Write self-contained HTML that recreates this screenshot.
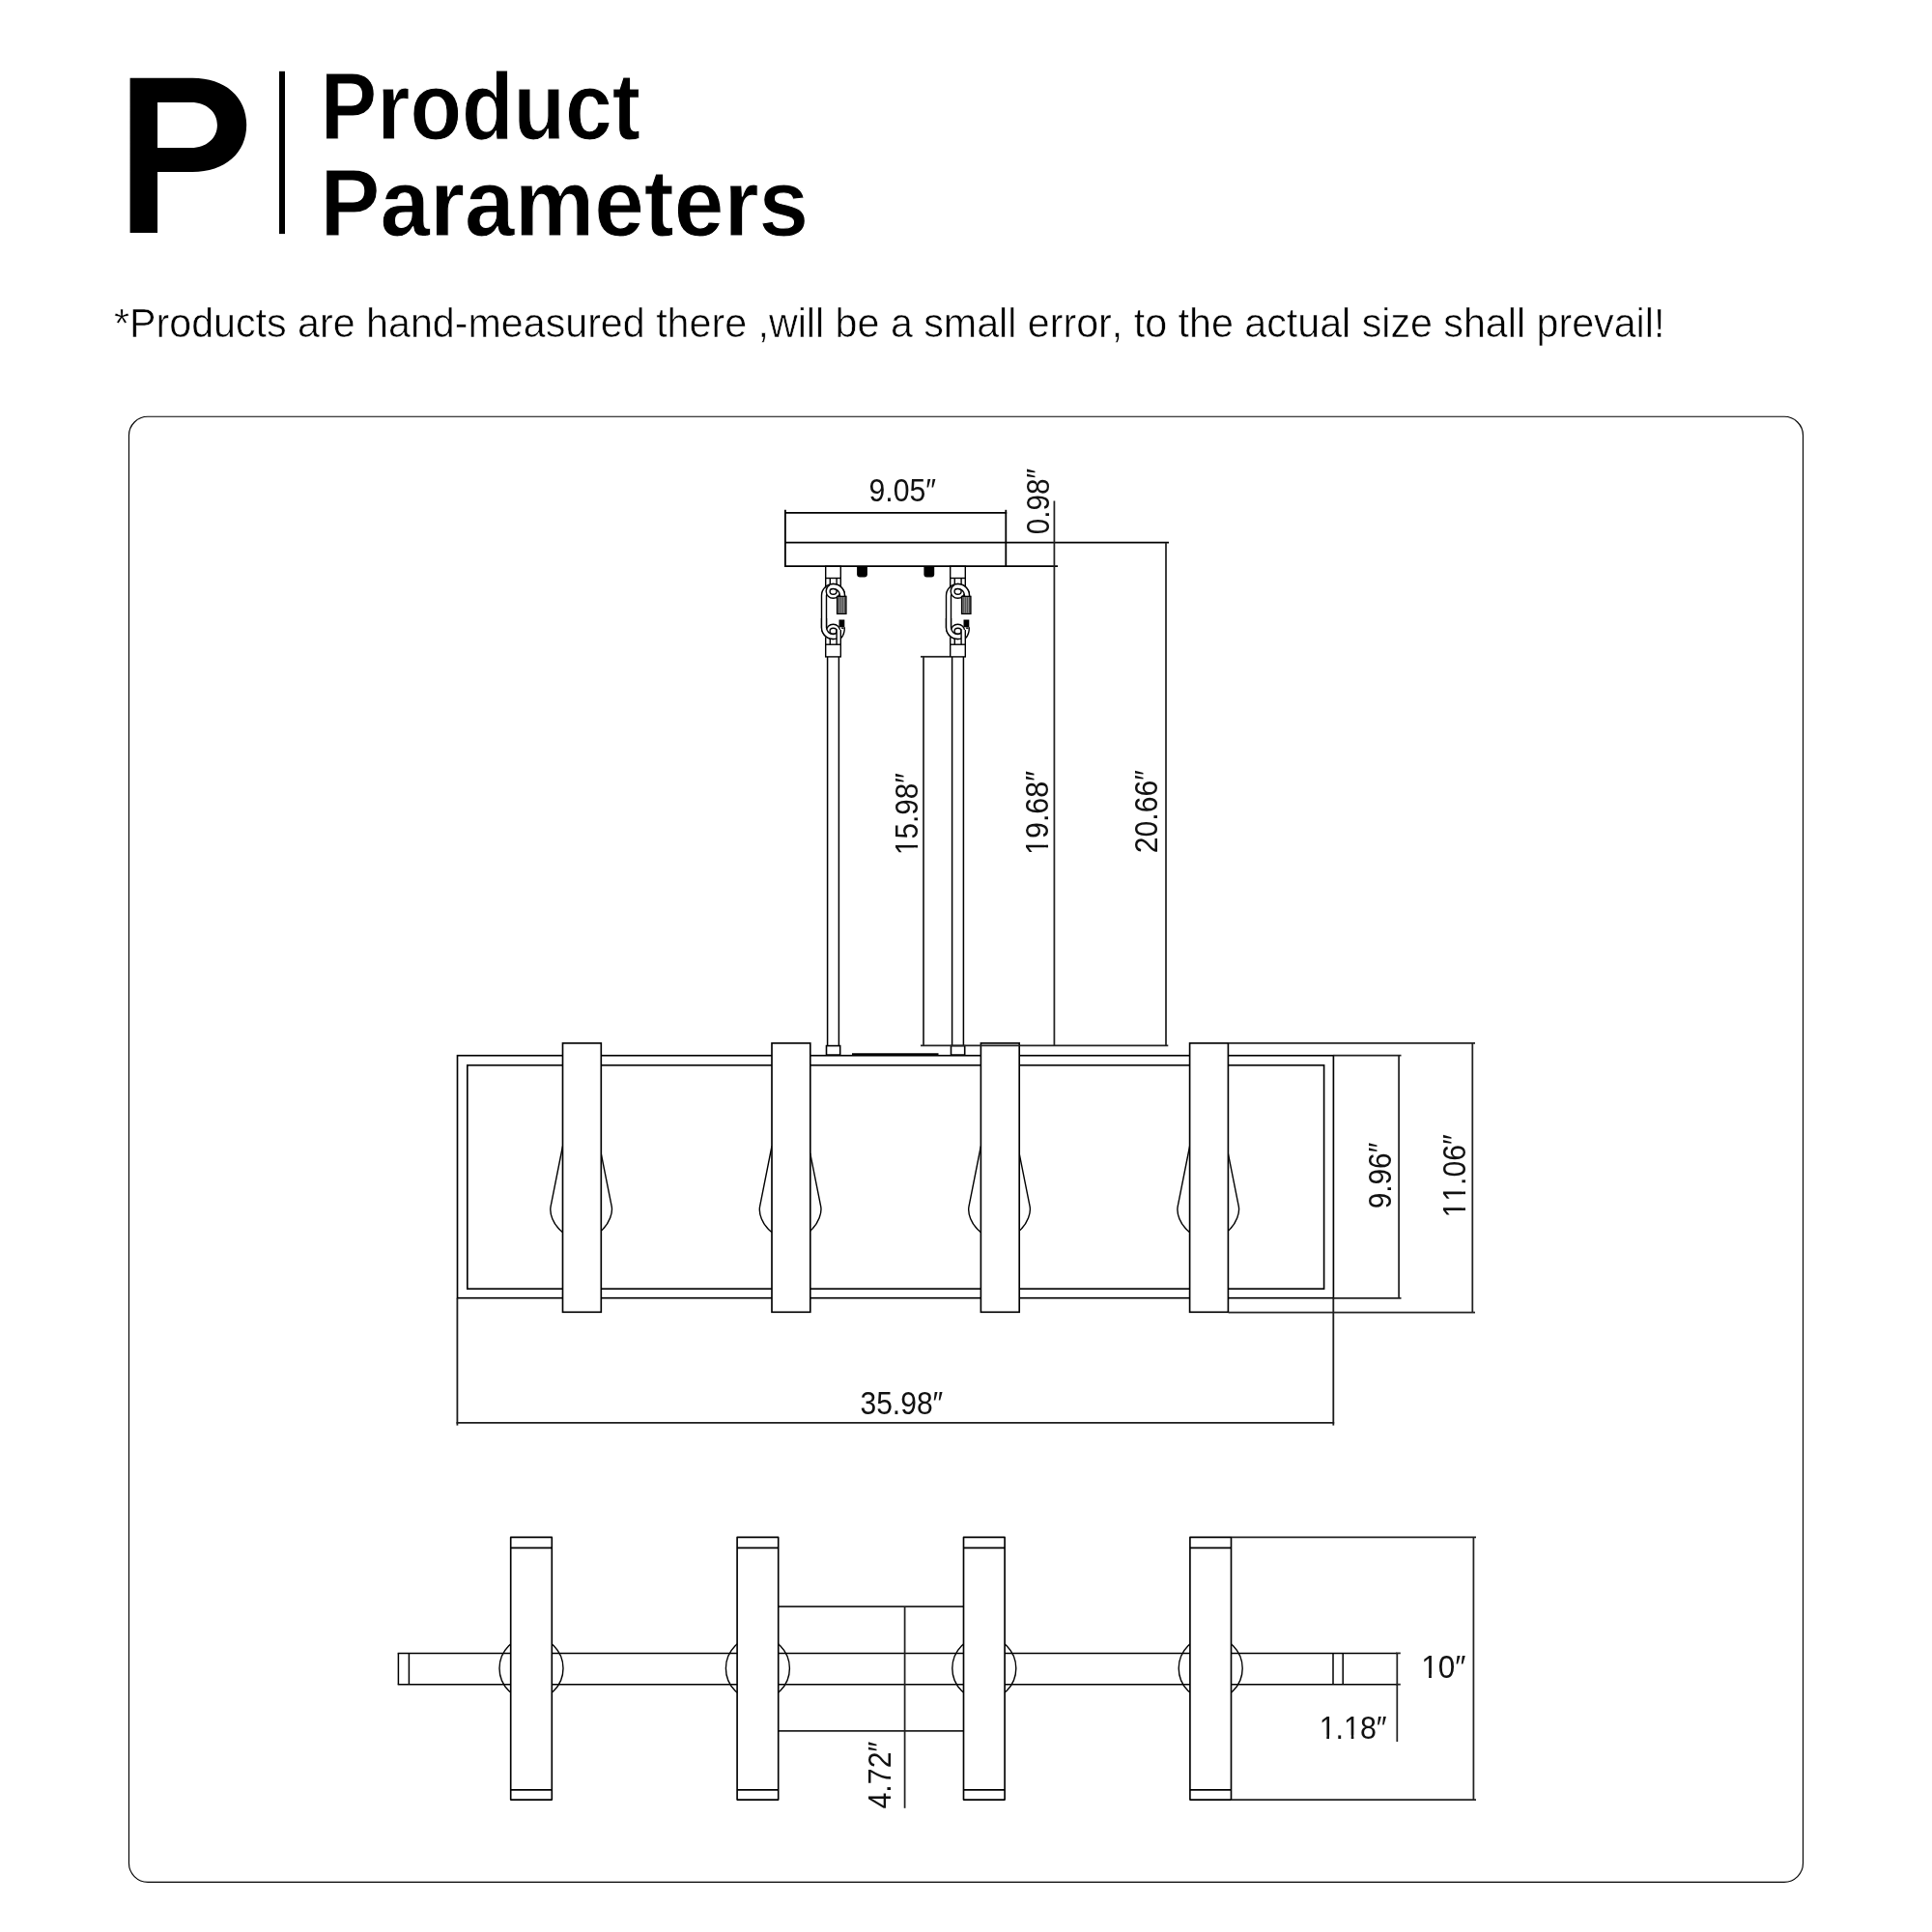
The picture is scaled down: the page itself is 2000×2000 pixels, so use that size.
<!DOCTYPE html>
<html><head><meta charset="utf-8">
<style>
html,body{margin:0;padding:0;background:#fff;}
body{width:2000px;height:2000px;position:relative;overflow:hidden;font-family:"Liberation Sans",sans-serif;color:#000;}
svg{position:absolute;left:0;top:0;}
svg text{font-family:"Liberation Sans",sans-serif;font-kerning:none;}
svg{will-change:transform;}
</style></head><body>
<svg width="2000" height="2000" viewBox="0 0 2000 2000">
<path fill="#000" fill-rule="evenodd" d="M134.6,80.7 H199.3 C232.84,80.7 255.2,100.16 255.2,129.35 C255.2,158.54 232.84,178 199.3,178 H163.05 V240.9 H134.6 Z M163.05,105.9 H198 C213.60,105.9 224.9,115.77 224.9,129.4 C224.9,143.03 213.60,152.9 198,152.9 H163.05 Z"/>
<rect x="289" y="73.8" width="6" height="168.3" fill="#000"/>
<g transform="translate(331.83,143.7) scale(0.8951,1)"><text font-size="97.95" font-weight="bold" fill="#000" stroke="#fff" stroke-width="1.0">Product</text></g>
<g transform="translate(331.49,243.5) scale(0.9476,1)"><text font-size="97.95" font-weight="bold" fill="#000" stroke="#fff" stroke-width="1.0">Parameters</text></g>
<g transform="translate(118.04,349.1) scale(0.9728,1)"><text font-size="42.37" font-weight="normal" fill="#000" stroke="#fff" stroke-width="0.6">*Products are hand-measured there ,will be a small error, to the actual size shall prevail!</text></g>
<rect x="133.46" y="431.26" width="1733.04" height="1517.1" rx="19.5" ry="19.5" fill="none" stroke="#000" stroke-width="1.15"/>
<line x1="812.9" y1="527.8" x2="812.9" y2="586.2" stroke="#000" stroke-width="1.8" />
<line x1="1041.3" y1="527.8" x2="1041.3" y2="586.2" stroke="#000" stroke-width="1.8" />
<line x1="812" y1="530.9" x2="1042.2" y2="530.9" stroke="#000" stroke-width="1.8" />
<line x1="812" y1="561.7" x2="1210" y2="561.7" stroke="#000" stroke-width="1.8" />
<line x1="812" y1="586.2" x2="1095" y2="586.2" stroke="#000" stroke-width="1.8" />
<line x1="1091.4" y1="518.4" x2="1091.4" y2="1082.4" stroke="#222" stroke-width="1.75" />
<line x1="1207" y1="561.7" x2="1207" y2="1082.4" stroke="#222" stroke-width="1.75" />
<g transform="translate(899.48,519) scale(0.9152,1)"><text font-size="33" font-weight="normal" fill="#111">9.05″</text></g>
<g transform="translate(1086.2,553.16) rotate(-90) scale(0.8985,1)"><text font-size="33" font-weight="normal" fill="#111">0.98″</text></g>
<path d="M887.1,586 h10.8 v8.5 q0,3 -3,3 h-4.8 q-3,0 -3,-3 z" fill="#000" stroke="#000" stroke-width="0" />
<path d="M956.4,586 h10.8 v8.5 q0,3 -3,3 h-4.8 q-3,0 -3,-3 z" fill="#000" stroke="#000" stroke-width="0" />
<rect x="854.7" y="586.3" width="15.6" height="12.2" fill="#fff" stroke="#000" stroke-width="1.4"/>
<path d="M874.5,617.3 V616.5 A12,12 0 0 0 850.5,616.5 V649.5 A12,12 0 0 0 866.1,660.95 L866.1,655.5 A7,7 0 0 1 855.5,649.5 V616.5 A7,7 0 0 1 869.5,616.5 V617.3 Z" fill="#fff" stroke="#000" stroke-width="1.4" />
<circle cx="862.5" cy="612" r="7.3" fill="#fff" stroke="#000" stroke-width="1.4"/>
<ellipse cx="862.6" cy="612.2" rx="3.5" ry="3.0" fill="#fff" stroke="#000" stroke-width="1.4"/>
<clipPath id="c862a"><rect x="859.3" y="600" width="20" height="18"/></clipPath>
<path d="M874.5,617.8 V616.5 A12,12 0 0 0 850.5,616.5 L855.5,616.5 A7,7 0 0 1 869.5,616.5 V617.8 Z" fill="#fff" stroke="#000" stroke-width="1.4" clip-path="url(#c862a)"/>
<line x1="854.7" y1="598.5" x2="854.7" y2="608.5" stroke="#000" stroke-width="1.4"/>
<line x1="859.3" y1="598.5" x2="859.3" y2="605.2" stroke="#000" stroke-width="1.4"/>
<line x1="866.1" y1="598.5" x2="866.1" y2="605.2" stroke="#000" stroke-width="1.4"/>
<line x1="870.3" y1="598.5" x2="870.3" y2="607.3" stroke="#000" stroke-width="1.4"/>
<circle cx="862.5" cy="653.4" r="7.15" fill="#fff" stroke="#000" stroke-width="1.4"/>
<ellipse cx="862.6" cy="653.3" rx="3.5" ry="3.0" fill="#fff" stroke="#000" stroke-width="1.4"/>
<clipPath id="c862b"><rect x="848.5" y="640" width="17.6" height="25"/></clipPath>
<path d="M850.5,640 V649.5 A12,12 0 0 0 874.5,649.5 L869.5,649.5 A7,7 0 0 1 855.5,649.5 V640 Z" fill="#fff" stroke="none" clip-path="url(#c862b)"/>
<path d="M850.5,638 V649.5 A12,12 0 0 0 874.5,649.5 M869.5,649.5 A7,7 0 0 1 855.5,649.5 V638" fill="none" stroke="#000" stroke-width="1.4" clip-path="url(#c862b)"/>
<rect x="866.1" y="652" width="4.2" height="15.2" fill="#fff" stroke="none"/>
<line x1="866.1" y1="651.5" x2="866.1" y2="667.2" stroke="#000" stroke-width="1.4"/>
<line x1="870.3" y1="652" x2="870.3" y2="667.2" stroke="#000" stroke-width="1.4"/>
<line x1="854.7" y1="659.6" x2="854.7" y2="667.2" stroke="#000" stroke-width="1.4"/>
<line x1="859.3" y1="661.2" x2="859.3" y2="667.2" stroke="#000" stroke-width="1.4"/>
<path d="M874.3,649.2 C874.4,654 873.0,658 870.7,660.5" fill="none" stroke="#000" stroke-width="1.4" />
<path d="M871.1,650.2 L873.5,650.2" fill="none" stroke="#000" stroke-width="1.4" />
<rect x="866.6" y="617.4" width="9.3" height="18" fill="#9a9a9a" stroke="#000" stroke-width="1.4"/>
<line x1="868.2" y1="618.2" x2="868.2" y2="634.6" stroke="#333" stroke-width="0.9"/>
<line x1="870.25" y1="618.2" x2="870.25" y2="634.6" stroke="#333" stroke-width="0.9"/>
<line x1="872.3" y1="618.2" x2="872.3" y2="634.6" stroke="#333" stroke-width="0.9"/>
<line x1="874.35" y1="618.2" x2="874.35" y2="634.6" stroke="#333" stroke-width="0.9"/>
<rect x="868.5" y="641.5" width="5.8" height="7.8" fill="#000"/>
<rect x="854.7" y="667.2" width="15.6" height="12.7" fill="#fff" stroke="#000" stroke-width="1.4"/>
<line x1="856.6" y1="680" x2="856.6" y2="1082.6" stroke="#000" stroke-width="1.5"/>
<line x1="868.4" y1="680" x2="868.4" y2="1082.6" stroke="#000" stroke-width="1.5"/>
<rect x="855.5" y="1082.6" width="14.2" height="9.5" fill="#fff" stroke="#000" stroke-width="1.6"/>
<rect x="983.7" y="586.3" width="15.6" height="12.2" fill="#fff" stroke="#000" stroke-width="1.4"/>
<path d="M1003.5,617.3 V616.5 A12,12 0 0 0 979.5,616.5 V649.5 A12,12 0 0 0 995.1,660.95 L995.1,655.5 A7,7 0 0 1 984.5,649.5 V616.5 A7,7 0 0 1 998.5,616.5 V617.3 Z" fill="#fff" stroke="#000" stroke-width="1.4" />
<circle cx="991.5" cy="612" r="7.3" fill="#fff" stroke="#000" stroke-width="1.4"/>
<ellipse cx="991.6" cy="612.2" rx="3.5" ry="3.0" fill="#fff" stroke="#000" stroke-width="1.4"/>
<clipPath id="c991a"><rect x="988.3" y="600" width="20" height="18"/></clipPath>
<path d="M1003.5,617.8 V616.5 A12,12 0 0 0 979.5,616.5 L984.5,616.5 A7,7 0 0 1 998.5,616.5 V617.8 Z" fill="#fff" stroke="#000" stroke-width="1.4" clip-path="url(#c991a)"/>
<line x1="983.7" y1="598.5" x2="983.7" y2="608.5" stroke="#000" stroke-width="1.4"/>
<line x1="988.3" y1="598.5" x2="988.3" y2="605.2" stroke="#000" stroke-width="1.4"/>
<line x1="995.1" y1="598.5" x2="995.1" y2="605.2" stroke="#000" stroke-width="1.4"/>
<line x1="999.3" y1="598.5" x2="999.3" y2="607.3" stroke="#000" stroke-width="1.4"/>
<circle cx="991.5" cy="653.4" r="7.15" fill="#fff" stroke="#000" stroke-width="1.4"/>
<ellipse cx="991.6" cy="653.3" rx="3.5" ry="3.0" fill="#fff" stroke="#000" stroke-width="1.4"/>
<clipPath id="c991b"><rect x="977.5" y="640" width="17.6" height="25"/></clipPath>
<path d="M979.5,640 V649.5 A12,12 0 0 0 1003.5,649.5 L998.5,649.5 A7,7 0 0 1 984.5,649.5 V640 Z" fill="#fff" stroke="none" clip-path="url(#c991b)"/>
<path d="M979.5,638 V649.5 A12,12 0 0 0 1003.5,649.5 M998.5,649.5 A7,7 0 0 1 984.5,649.5 V638" fill="none" stroke="#000" stroke-width="1.4" clip-path="url(#c991b)"/>
<rect x="995.1" y="652" width="4.2" height="15.2" fill="#fff" stroke="none"/>
<line x1="995.1" y1="651.5" x2="995.1" y2="667.2" stroke="#000" stroke-width="1.4"/>
<line x1="999.3" y1="652" x2="999.3" y2="667.2" stroke="#000" stroke-width="1.4"/>
<line x1="983.7" y1="659.6" x2="983.7" y2="667.2" stroke="#000" stroke-width="1.4"/>
<line x1="988.3" y1="661.2" x2="988.3" y2="667.2" stroke="#000" stroke-width="1.4"/>
<path d="M1003.3,649.2 C1003.4,654 1002.0,658 999.7,660.5" fill="none" stroke="#000" stroke-width="1.4" />
<path d="M1000.1,650.2 L1002.5,650.2" fill="none" stroke="#000" stroke-width="1.4" />
<rect x="995.6" y="617.4" width="9.3" height="18" fill="#9a9a9a" stroke="#000" stroke-width="1.4"/>
<line x1="997.2" y1="618.2" x2="997.2" y2="634.6" stroke="#333" stroke-width="0.9"/>
<line x1="999.25" y1="618.2" x2="999.25" y2="634.6" stroke="#333" stroke-width="0.9"/>
<line x1="1001.3" y1="618.2" x2="1001.3" y2="634.6" stroke="#333" stroke-width="0.9"/>
<line x1="1003.35" y1="618.2" x2="1003.35" y2="634.6" stroke="#333" stroke-width="0.9"/>
<rect x="997.5" y="641.5" width="5.8" height="7.8" fill="#000"/>
<rect x="983.7" y="667.2" width="15.6" height="12.7" fill="#fff" stroke="#000" stroke-width="1.4"/>
<line x1="985.6" y1="680" x2="985.6" y2="1082.6" stroke="#000" stroke-width="1.5"/>
<line x1="997.4" y1="680" x2="997.4" y2="1082.6" stroke="#000" stroke-width="1.5"/>
<rect x="984.5" y="1082.6" width="14.2" height="9.5" fill="#fff" stroke="#000" stroke-width="1.6"/>
<line x1="953" y1="679.8" x2="983" y2="679.8" stroke="#222" stroke-width="1.75" />
<line x1="956" y1="679.8" x2="956" y2="1082.4" stroke="#222" stroke-width="1.75" />
<g transform="translate(949.8,884.95) rotate(-90) scale(0.8986,1)"><text font-size="33" font-weight="normal" fill="#111">15.98″</text><rect x="1.45" y="-3.38" width="6.85" height="4.51" fill="#fff"/><rect x="11.21" y="-3.38" width="6.51" height="4.51" fill="#fff"/></g>
<g transform="translate(1084.8,885.03) rotate(-90) scale(0.9240,1)"><text font-size="33" font-weight="normal" fill="#111">19.68″</text><rect x="1.45" y="-3.38" width="6.85" height="4.51" fill="#fff"/><rect x="11.21" y="-3.38" width="6.51" height="4.51" fill="#fff"/></g>
<g transform="translate(1198,883.22) rotate(-90) scale(0.9142,1)"><text font-size="33" font-weight="normal" fill="#111">20.66″</text></g>
<line x1="882" y1="1091.6" x2="971.5" y2="1091.6" stroke="#000" stroke-width="2.6" />
<rect x="473.5" y="1092.7" width="906.9" height="251.0" fill="none" stroke="#000" stroke-width="1.65" />
<rect x="483.8" y="1102.7" width="886.8" height="231.5" fill="none" stroke="#000" stroke-width="1.65" />
<path d="M582.5,1186.5 L570.1,1248.9 C568.8,1255.5 571.9,1267.5 582.5,1275.6" fill="none" stroke="#000" stroke-width="1.4" />
<path d="M622.2,1193.9 L633.2,1248.9 C634.4,1255 631.5,1266 622.2,1274.3" fill="none" stroke="#000" stroke-width="1.4" />
<rect x="582.5" y="1079.9" width="39.8" height="278.4" fill="#fff" stroke="#000" stroke-width="1.65" />
<path d="M799.0,1186.5 L786.6,1248.9 C785.3,1255.5 788.4,1267.5 799.0,1275.6" fill="none" stroke="#000" stroke-width="1.4" />
<path d="M838.7,1193.9 L849.7,1248.9 C850.9,1255 848.0,1266 838.7,1274.3" fill="none" stroke="#000" stroke-width="1.4" />
<rect x="799.0" y="1079.9" width="39.8" height="278.4" fill="#fff" stroke="#000" stroke-width="1.65" />
<path d="M1015.4,1186.5 L1003.0,1248.9 C1001.7,1255.5 1004.8,1267.5 1015.4,1275.6" fill="none" stroke="#000" stroke-width="1.4" />
<path d="M1055.1,1193.9 L1066.1,1248.9 C1067.3,1255 1064.4,1266 1055.1,1274.3" fill="none" stroke="#000" stroke-width="1.4" />
<rect x="1015.4" y="1079.9" width="39.8" height="278.4" fill="#fff" stroke="#000" stroke-width="1.65" />
<path d="M1231.6,1186.5 L1219.2,1248.9 C1217.9,1255.5 1221.0,1267.5 1231.6,1275.6" fill="none" stroke="#000" stroke-width="1.4" />
<path d="M1271.3,1193.9 L1282.3,1248.9 C1283.5,1255 1280.6,1266 1271.3,1274.3" fill="none" stroke="#000" stroke-width="1.4" />
<rect x="1231.6" y="1079.9" width="39.8" height="278.4" fill="#fff" stroke="#000" stroke-width="1.65" />
<line x1="953" y1="1082.4" x2="1209.3" y2="1082.4" stroke="#222" stroke-width="1.75" />
<line x1="473.4" y1="1343.8" x2="473.4" y2="1475.6" stroke="#1c1c1c" stroke-width="1.8" />
<line x1="1380.3" y1="1343.8" x2="1380.3" y2="1475.6" stroke="#1c1c1c" stroke-width="1.8" />
<line x1="472.5" y1="1472.9" x2="1381.2" y2="1472.9" stroke="#1c1c1c" stroke-width="1.8" />
<g transform="translate(890.46,1464) scale(0.9102,1)"><text font-size="33" font-weight="normal" fill="#111">35.98″</text></g>
<line x1="1380.4" y1="1092.7" x2="1450.5" y2="1092.7" stroke="#222" stroke-width="1.75" />
<line x1="1380.4" y1="1343.8" x2="1450.5" y2="1343.8" stroke="#222" stroke-width="1.75" />
<line x1="1448.1" y1="1092.7" x2="1448.1" y2="1343.8" stroke="#222" stroke-width="1.75" />
<g transform="translate(1439.7,1251.30) rotate(-90) scale(0.9030,1)"><text font-size="33" font-weight="normal" fill="#111">9.96″</text></g>
<line x1="1271.7" y1="1079.9" x2="1527" y2="1079.9" stroke="#222" stroke-width="1.75" />
<line x1="1271.7" y1="1358.6" x2="1527" y2="1358.6" stroke="#222" stroke-width="1.75" />
<line x1="1524.3" y1="1079.8" x2="1524.3" y2="1358.6" stroke="#222" stroke-width="1.75" />
<g transform="translate(1516.8,1260.61) rotate(-90) scale(0.9163,1)"><text font-size="33" font-weight="normal" fill="#111">11.06″</text><rect x="1.45" y="-3.38" width="6.85" height="4.51" fill="#fff"/><rect x="11.21" y="-3.38" width="6.51" height="4.51" fill="#fff"/><rect x="19.80" y="-3.38" width="6.85" height="4.51" fill="#fff"/><rect x="29.57" y="-3.38" width="6.51" height="4.51" fill="#fff"/></g>
<circle cx="550.0" cy="1727" r="33" fill="none" stroke="#000" stroke-width="1.4"/>
<circle cx="784.4" cy="1727" r="33" fill="none" stroke="#000" stroke-width="1.4"/>
<circle cx="1018.8" cy="1727" r="33" fill="none" stroke="#000" stroke-width="1.4"/>
<circle cx="1253.2" cy="1727" r="33" fill="none" stroke="#000" stroke-width="1.4"/>
<line x1="411.7" y1="1711.4" x2="1446.3" y2="1711.4" stroke="#000" stroke-width="1.5" />
<line x1="411.7" y1="1743.7" x2="1446.3" y2="1743.7" stroke="#000" stroke-width="1.5" />
<line x1="412.4" y1="1711.4" x2="412.4" y2="1743.7" stroke="#000" stroke-width="1.5" />
<line x1="423.4" y1="1711.4" x2="423.4" y2="1743.7" stroke="#000" stroke-width="1.5" />
<line x1="1380" y1="1711.4" x2="1380" y2="1743.7" stroke="#000" stroke-width="1.5" />
<line x1="1390.2" y1="1711.4" x2="1390.2" y2="1743.7" stroke="#000" stroke-width="1.5" />
<line x1="806" y1="1663.2" x2="997.5" y2="1663.2" stroke="#222" stroke-width="1.75" />
<line x1="806" y1="1791.9" x2="997.5" y2="1791.9" stroke="#222" stroke-width="1.75" />
<line x1="936.6" y1="1663.2" x2="936.6" y2="1871.8" stroke="#222" stroke-width="1.75" />
<g transform="translate(922.1,1872.50) rotate(-90) scale(0.9190,1)"><text font-size="33" font-weight="normal" fill="#111">4.72″</text></g>
<rect x="528.7" y="1591.4" width="42.6" height="271.7" fill="#fff" stroke="#000" stroke-width="1.65" stroke-linejoin="round"/>
<line x1="528.7" y1="1602.4" x2="571.3000000000001" y2="1602.4" stroke="#000" stroke-width="1.65" />
<line x1="528.7" y1="1852.8" x2="571.3000000000001" y2="1852.8" stroke="#000" stroke-width="1.65" />
<rect x="763.1" y="1591.4" width="42.6" height="271.7" fill="#fff" stroke="#000" stroke-width="1.65" stroke-linejoin="round"/>
<line x1="763.1" y1="1602.4" x2="805.7" y2="1602.4" stroke="#000" stroke-width="1.65" />
<line x1="763.1" y1="1852.8" x2="805.7" y2="1852.8" stroke="#000" stroke-width="1.65" />
<rect x="997.5" y="1591.4" width="42.6" height="271.7" fill="#fff" stroke="#000" stroke-width="1.65" stroke-linejoin="round"/>
<line x1="997.5" y1="1602.4" x2="1040.1" y2="1602.4" stroke="#000" stroke-width="1.65" />
<line x1="997.5" y1="1852.8" x2="1040.1" y2="1852.8" stroke="#000" stroke-width="1.65" />
<rect x="1231.9" y="1591.4" width="42.6" height="271.7" fill="#fff" stroke="#000" stroke-width="1.65" stroke-linejoin="round"/>
<line x1="1231.9" y1="1602.4" x2="1274.5" y2="1602.4" stroke="#000" stroke-width="1.65" />
<line x1="1231.9" y1="1852.8" x2="1274.5" y2="1852.8" stroke="#000" stroke-width="1.65" />
<line x1="1274.8" y1="1591.4" x2="1528" y2="1591.4" stroke="#222" stroke-width="1.75" />
<line x1="1274.8" y1="1863.1" x2="1528" y2="1863.1" stroke="#222" stroke-width="1.75" />
<line x1="1525.4" y1="1591.4" x2="1525.4" y2="1863.1" stroke="#222" stroke-width="1.75" />
<g transform="translate(1471.18,1736.8) scale(0.9529,1)"><text font-size="33" font-weight="normal" fill="#111">10″</text><rect x="1.45" y="-3.38" width="6.85" height="4.51" fill="#fff"/><rect x="11.21" y="-3.38" width="6.51" height="4.51" fill="#fff"/></g>
<line x1="1446.3" y1="1711.4" x2="1446.3" y2="1803" stroke="#222" stroke-width="1.75" />
<line x1="1445" y1="1711.4" x2="1449.8" y2="1711.4" stroke="#222" stroke-width="1.75" />
<line x1="1445" y1="1743.7" x2="1449.8" y2="1743.7" stroke="#222" stroke-width="1.75" />
<g transform="translate(1365.67,1799.9) scale(0.9220,1)"><text font-size="33" font-weight="normal" fill="#111">1.18″</text><rect x="1.45" y="-3.38" width="6.85" height="4.51" fill="#fff"/><rect x="11.21" y="-3.38" width="6.51" height="4.51" fill="#fff"/><rect x="28.97" y="-3.38" width="6.85" height="4.51" fill="#fff"/><rect x="38.74" y="-3.38" width="6.51" height="4.51" fill="#fff"/></g>
</svg>
</body></html>
